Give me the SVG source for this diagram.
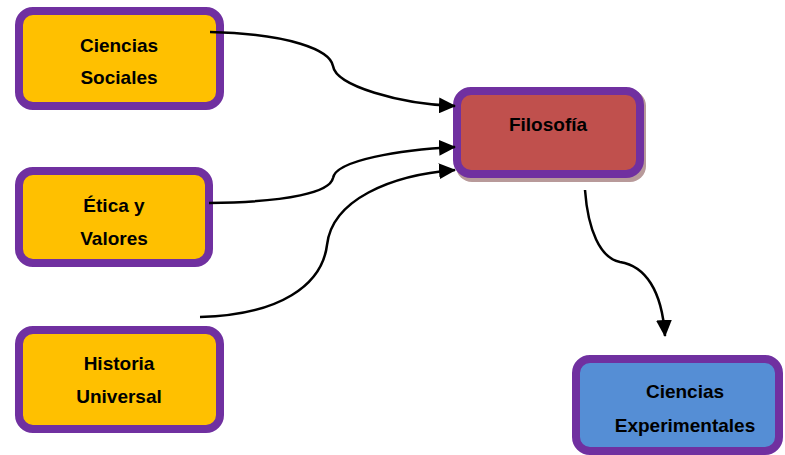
<svg xmlns="http://www.w3.org/2000/svg" width="785" height="455" viewBox="0 0 785 455">
<style>
.box{stroke:#7030A0;stroke-width:8}
.orange{fill:#FFC000}
.red{fill:#C0504D}
.blue{fill:#558ED5}
.shadow{fill:#B89A9A}
text{font-family:"Liberation Sans",Arial,sans-serif;font-weight:bold;font-size:19px;fill:#000;text-anchor:middle}
.conn{fill:none;stroke:#000;stroke-width:2.5}
</style>
<defs>
<marker id="arrow" markerUnits="userSpaceOnUse" markerWidth="18" markerHeight="16" refX="16" refY="8" orient="auto">
<path d="M0,0 L17,8 L0,16 z" fill="#000"/>
</marker>
</defs>
<g id="ciencias-sociales">
<rect class="box orange" x="19" y="11" width="201" height="95" rx="14"/>
<text x="119" y="52">Ciencias</text>
<text x="119" y="84">Sociales</text>
</g>
<g id="etica-valores">
<rect class="box orange" x="19" y="171" width="190" height="92" rx="14"/>
<text x="114" y="212">Ética y</text>
<text x="114" y="245">Valores</text>
</g>
<g id="historia-universal">
<rect class="box orange" x="19" y="330" width="201" height="99" rx="14"/>
<text x="119" y="370">Historia</text>
<text x="119" y="403">Universal</text>
</g>
<g id="filosofia">
<rect class="shadow" x="456" y="90" width="190" height="92" rx="16"/>
<rect class="box red" x="457" y="91" width="183" height="83" rx="14"/>
<text x="548" y="131">Filosofía</text>
</g>
<g id="ciencias-experimentales">
<rect class="box blue" x="576" y="359" width="203" height="92" rx="14"/>
<text x="685" y="398">Ciencias</text>
<text x="685" y="432">Experimentales</text>
</g>
<g id="connectors">
<path class="conn" marker-end="url(#arrow)" d="M210,32 C290,34 330,50 333,66 C336,86 400,104 455,106"/>
<path class="conn" marker-end="url(#arrow)" d="M209,203 C290,202 330,192 333,178 C336,160 400,150 455,147"/>
<path class="conn" marker-end="url(#arrow)" d="M200,317 C280,315 322,285 327,245 C332,200 390,175 455,170"/>
<path class="conn" marker-end="url(#arrow)" d="M585,190 C588,230 600,258 620,262 C645,266 662,290 665,336"/>
</g>
</svg>
